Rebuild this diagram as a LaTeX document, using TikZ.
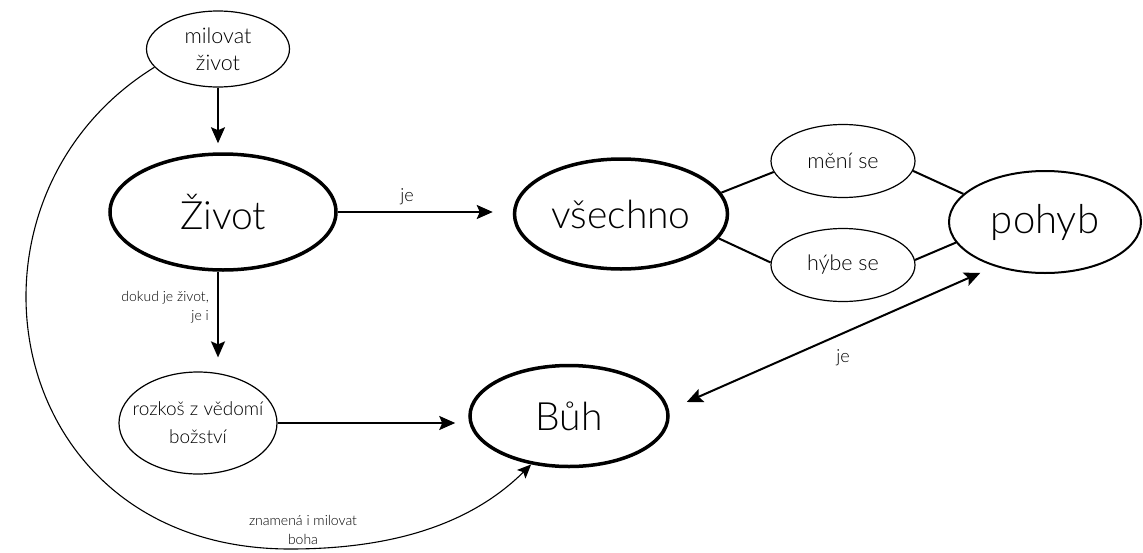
\documentclass[tikz,border=0pt]{standalone}
\usepackage{fontspec}
\setmainfont{Lato}[UprightFont={* Light}]
\usetikzlibrary{shapes.geometric,arrows.meta,calc}

\tikzset{
  bignode/.style={ellipse, draw, line width=3.5pt, inner sep=0pt,
    font=\fontsize{39}{44}\selectfont},
  midnode/.style={ellipse, draw, line width=2pt, inner sep=0pt,
    font=\fontsize{40}{44}\selectfont},
  smallnode/.style={ellipse, draw, line width=1.2pt, inner sep=0pt,
    align=center, font=\fontsize{21.5}{27}\selectfont},
  link/.style={line width=2pt},
  arr/.style={link, -{Stealth[length=16pt,width=14pt,inset=3pt]}},
  biarr/.style={link, {Stealth[length=16pt,width=14pt,inset=3pt]}-{Stealth[length=16pt,width=14pt,inset=3pt]}},
  thinarr/.style={line width=1.1pt, -{Stealth[length=14pt,width=12pt,inset=3pt]}},
  lbl/.style={inner sep=0pt, font=\fontsize{18}{20}\selectfont},
  smalllbl/.style={inner sep=0pt, font=\fontsize{14}{19}\selectfont}
}

\begin{document}
\begin{tikzpicture}[x=1pt, y=-1pt]
  \useasboundingbox (0,0) rectangle (1143,552);

  % nodes
  \node[smallnode, minimum width=143pt, minimum height=76pt] (mil) at (218,49) {milovat\\život};
  \node[bignode, minimum width=226pt, minimum height=116pt] (ziv) at (223,212) {Život};
  \node[bignode, minimum width=213pt, minimum height=110pt] (vse) at (621,214) {všechno};
  \node[smallnode, minimum width=144pt, minimum height=73pt] (meni) at (843,161) {mění se};
  \node[smallnode, minimum width=144pt, minimum height=73pt] (hybe) at (843,265) {hýbe se};
  \node[midnode, minimum width=192pt, minimum height=102pt] (pohyb) at (1045,222) {pohyb};
  \node[smallnode, inner xsep=-22pt, minimum width=158pt, minimum height=102pt,
        font=\fontsize{19}{28}\selectfont] (roz) at (198,423) {rozkoš z vědomí\\božství};
  \node[bignode, minimum width=198pt, minimum height=101pt] (buh) at (569,416) {Bůh};

  % labels
  \node[lbl] (je1) at (407,197) {je};
  \node[lbl] (je2) at (843,358) {je};
  \node[smalllbl, align=right, anchor=east] (dokud) at (209,307) {dokud je život,\\je i};
  \node[smalllbl, align=center] (znam) at (303,530) {znamená i milovat\\boha};

  % arrows
  \draw[arr, shorten >=9pt] (mil.south) -- (mil.south |- ziv.north);
  \draw[arr, shorten >=20pt] (ziv.east) -- (ziv.east -| vse.west);
  \draw[arr, shorten >=14pt] (ziv.south -| mil.south) -- (mil.south |- roz.north);
  \draw[arr, shorten >=13pt] (roz.east) -- (roz.east -| buh.west);
  \draw[biarr] ($(buh.east)+(17,-14)$) -- ($(pohyb.south west)+(4,14)$);

  % plain links
  \draw[link] (vse.12) -- (meni.189);
  \draw[link] (vse.-14) -- (hybe.178);
  \draw[link] (meni.-8) -- (pohyb.161);
  \draw[link] (hybe.4) -- (pohyb.193);

  % long curve
  \draw[thinarr] (mil.196) .. controls (-60,200) and (0,549) .. (290,549)
                 .. controls (410,549) and (480,515) .. (buh.232);
\end{tikzpicture}
\end{document}
